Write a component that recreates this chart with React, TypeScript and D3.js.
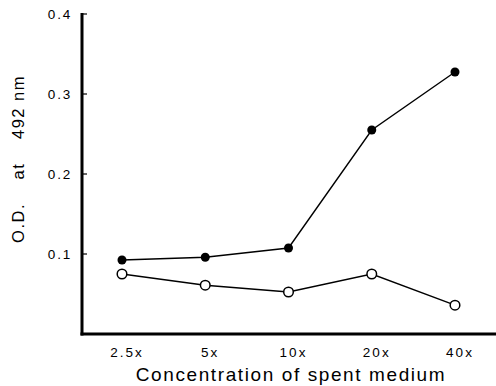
import React, { useEffect, useRef } from "react";
import * as d3 from "d3";

const categories = ["2.5x", "5x", "10x", "20x", "40x"];
const filledValues = [0.0925, 0.096, 0.1075, 0.255, 0.3275];
const openValues = [0.075, 0.061, 0.0525, 0.075, 0.036];
const yTicks = [0.1, 0.2, 0.3, 0.4];
// y label is set in three spaced pieces, like the original typesetting
const yLabelParts = [
  { text: "O.D.", at: 223 },
  { text: "at", at: 171 },
  { text: "492 nm", at: 107 },
];

const App: React.FC = () => {
  const svgRef = useRef<SVGSVGElement | null>(null);

  useEffect(() => {
    const width = 496;
    const height = 386;
    const left = 82;
    const bottom = 334;
    const top = 14;

    const svg = d3.select(svgRef.current);
    svg.selectAll("*").remove();
    svg.attr("width", width).attr("height", height).style("background", "#fff");

    const x = d3.scalePoint<string>().domain(categories).range([122, 455]);
    const y = d3.scaleLinear().domain([0, 0.4]).range([bottom, top]);

    // axes
    svg
      .append("line")
      .attr("x1", left)
      .attr("x2", left)
      .attr("y1", y(0.4) - 1)
      .attr("y2", bottom + 1.5)
      .attr("stroke", "#000")
      .attr("stroke-width", 3);
    svg
      .append("line")
      .attr("x1", left - 1.5)
      .attr("x2", width)
      .attr("y1", bottom)
      .attr("y2", bottom)
      .attr("stroke", "#000")
      .attr("stroke-width", 3);

    const font = "'Liberation Sans', Arial, sans-serif";

    const gy = svg.append("g");
    gy.selectAll("line")
      .data(yTicks)
      .enter()
      .append("line")
      .attr("x1", left)
      .attr("x2", left + 5)
      .attr("y1", (d) => y(d))
      .attr("y2", (d) => y(d))
      .attr("stroke", "#000")
      .attr("stroke-width", 1.2);
    gy.selectAll("text")
      .data(yTicks)
      .enter()
      .append("text")
      .attr("x", 72)
      .attr("y", (d) => y(d))
      .attr("dy", "0.35em")
      .attr("text-anchor", "end")
      .attr("font-family", font)
      .attr("font-size", 13.5)
      .attr("letter-spacing", 1.8)
      .text((d) => d3.format(".1f")(d));

    svg
      .append("g")
      .selectAll("text")
      .data(categories)
      .enter()
      .append("text")
      .attr("x", (d) => (x(d) as number) + 5)
      .attr("y", 352)
      .attr("dy", "0.35em")
      .attr("text-anchor", "middle")
      .attr("font-family", font)
      .attr("font-size", 13.5)
      .attr("letter-spacing", 2)
      .text((d) => d);

    svg
      .append("text")
      .attr("x", 291)
      .attr("y", 381)
      .attr("text-anchor", "middle")
      .attr("font-family", font)
      .attr("font-size", 19)
      .attr("letter-spacing", 1.6)
      .text("Concentration of spent medium");

    svg
      .append("g")
      .selectAll("text")
      .data(yLabelParts)
      .enter()
      .append("text")
      .attr("transform", (d) => `translate(24,${d.at}) rotate(-90)`)
      .attr("text-anchor", "middle")
      .attr("font-family", font)
      .attr("font-size", 16.5)
      .attr("letter-spacing", 1.5)
      .text((d) => d.text);

    const line = d3
      .line<number>()
      .x((_, i) => x(categories[i]) as number)
      .y((d) => y(d));

    svg
      .append("path")
      .attr("d", line(filledValues))
      .attr("fill", "none")
      .attr("stroke", "#000")
      .attr("stroke-width", 1.4);
    svg
      .append("path")
      .attr("d", line(openValues))
      .attr("fill", "none")
      .attr("stroke", "#000")
      .attr("stroke-width", 1.4);

    svg
      .append("g")
      .selectAll("circle")
      .data(filledValues)
      .enter()
      .append("circle")
      .attr("cx", (_, i) => x(categories[i]) as number)
      .attr("cy", (d) => y(d))
      .attr("r", 4.5)
      .attr("fill", "#000");

    svg
      .append("g")
      .selectAll("circle")
      .data(openValues)
      .enter()
      .append("circle")
      .attr("cx", (_, i) => x(categories[i]) as number)
      .attr("cy", (d) => y(d))
      .attr("r", 4.8)
      .attr("fill", "#fff")
      .attr("stroke", "#000")
      .attr("stroke-width", 1.5);
  }, []);

  return (
    <div style={{ position: "absolute", left: 0, top: 0 }}>
      <svg ref={svgRef}></svg>
    </div>
  );
};

export default App;
